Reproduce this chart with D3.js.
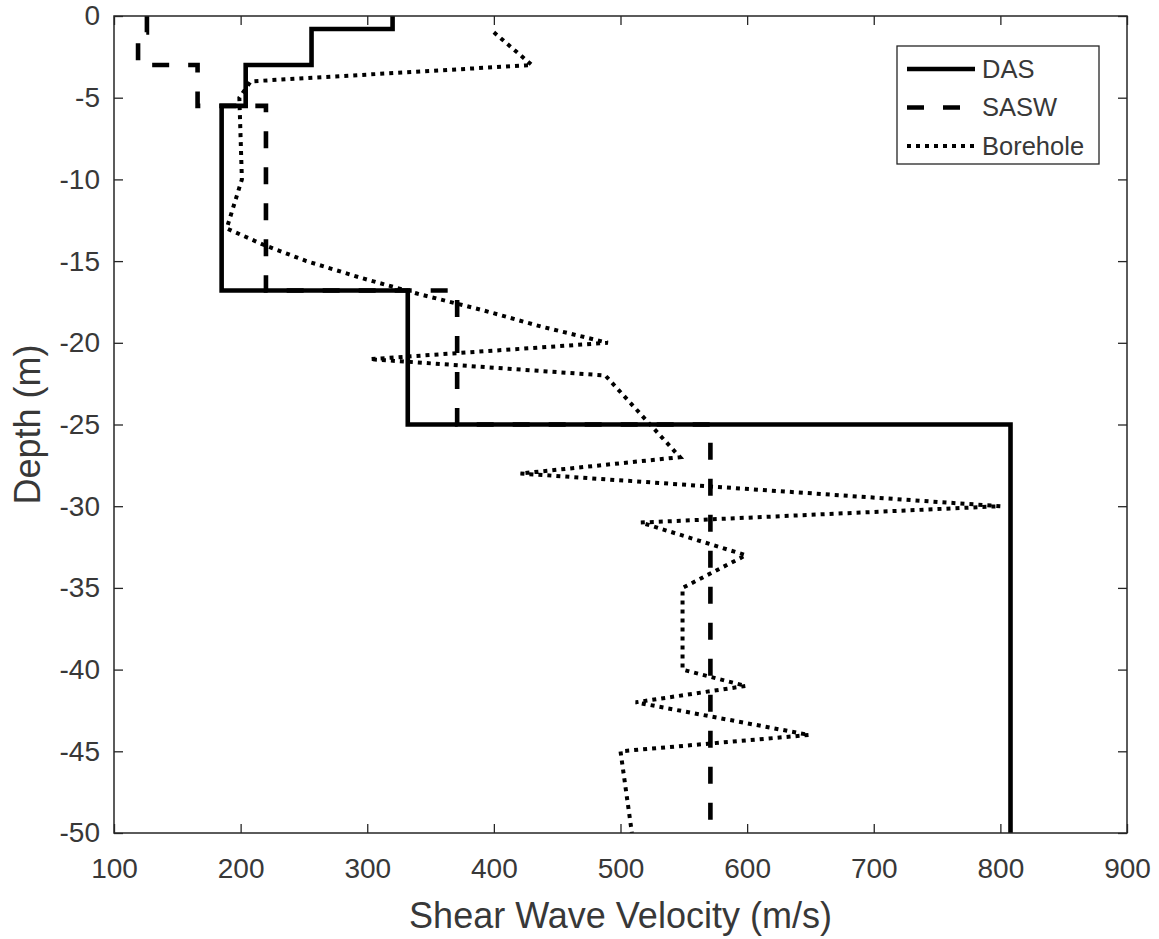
<!DOCTYPE html>
<html>
<head>
<meta charset="utf-8">
<script src="https://cdn.jsdelivr.net/npm/d3@7"></script>
<style>
body { margin: 0; background: #fff; }
text { font-family: Arial, "Liberation Sans", sans-serif; fill: #383838; }
</style>
</head>
<body>
<div id="chart"></div>
<script>
width = 1159
height = 939

// DAS profile (step function), depth in m, velocity in m/s
let dasDepth = [0, -0.8, -0.8, -3, -3, -5.5, -5.5, -16.8, -16.8, -25, -25, -50]
let dasVel = [320, 320, 256, 256, 204, 204, 185, 185, 332, 332, 808, 808]

// SASW profile
let saswDepth = [0, -1, -1, -3, -3, -5.5, -5.5, -16.8, -16.8, -25, -25, -50]
let saswVel = [126, 126, 119, 119, 166, 166, 220, 220, 371, 371, 571, 571]

// Borehole measurements
let boreDepth = [-1, -3, -4, -5, -10, -11, -12, -13, -14, -15, -16, -17, -18, -19, -20, -21, -22, -27, -28, -30, -31, -33, -35, -40, -41, -42, -44, -45, -50]
let boreVel = [400, 430, 208, 199, 201, 197, 193, 189, 218, 252, 294, 340, 391, 437, 490, 302, 488, 547, 421, 800, 516, 599, 549, 549, 599, 512, 649, 500, 509]

let xTicks = [100, 200, 300, 400, 500, 600, 700, 800, 900]
let yTicks = [0, -5, -10, -15, -20, -25, -30, -35, -40, -45, -50]
let seriesNames = ["DAS", "SASW", "Borehole"]

let plotLeft = 114, plotRight = 1127, plotTop = 16, plotBottom = 833
let axisColor = "#262626"
let textColor = "#383838"

let svg = d3.select("#chart")
.append("svg")
.attr("width", width)
.attr("height", height)

let x = d3.scaleLinear().domain([100, 900]).range([plotLeft, plotRight])
let y = d3.scaleLinear().domain([0, -50]).range([plotTop, plotBottom])

let styles = [
	{ width: 4.6, dash: null },
	{ width: 4.6, dash: "17,19" },
	{ width: 4, dash: "4,5" }
]

let series = [
	dasDepth.map((d, i) => [dasVel[i], d]),
	saswDepth.map((d, i) => [saswVel[i], d]),
	boreDepth.map((d, i) => [boreVel[i], d])
]

let line = d3.line().x(d => x(d[0])).y(d => y(d[1]))

svg.append("defs").append("clipPath").attr("id", "plot-clip")
.append("rect")
.attr("x", plotLeft)
.attr("y", plotTop)
.attr("width", plotRight - plotLeft)
.attr("height", plotBottom - plotTop)

svg.append("g")
.attr("clip-path", "url(#plot-clip)")
.selectAll("path")
.data(series)
.join("path")
.attr("d", line)
.attr("fill", "none")
.attr("stroke", "#000")
.attr("stroke-width", (d, i) => styles[i].width)
.attr("stroke-dasharray", (d, i) => styles[i].dash)
.attr("stroke-linejoin", "miter")

function styleAxis(g, showLabels) {
	g.select(".domain").remove()
	g.selectAll(".tick line").attr("stroke", axisColor).attr("stroke-width", 1.3)
	g.selectAll(".tick text")
	.attr("font-size", 28)
	.attr("font-family", "Arial, 'Liberation Sans', sans-serif")
	.attr("fill", textColor)
	if (!showLabels) g.selectAll(".tick text").remove()
}

svg.append("g")
.attr("transform", "translate(0," + plotBottom + ")")
.call(d3.axisBottom(x).tickValues(xTicks).tickSize(-9).tickPadding(25).tickFormat(d => String(d)))
.call(g => styleAxis(g, true))

svg.append("g")
.attr("transform", "translate(0," + plotTop + ")")
.call(d3.axisTop(x).tickValues(xTicks).tickSize(-9))
.call(g => styleAxis(g, false))

svg.append("g")
.attr("transform", "translate(" + plotLeft + ",0)")
.call(d3.axisLeft(y).tickValues(yTicks).tickSize(-9).tickPadding(14).tickFormat(d => String(d)))
.call(g => styleAxis(g, true))

svg.append("g")
.attr("transform", "translate(" + plotRight + ",0)")
.call(d3.axisRight(y).tickValues(yTicks).tickSize(-9))
.call(g => styleAxis(g, false))

svg.append("rect")
.attr("x", plotLeft)
.attr("y", plotTop)
.attr("width", plotRight - plotLeft)
.attr("height", plotBottom - plotTop)
.attr("fill", "none")
.attr("stroke", axisColor)
.attr("stroke-width", 1.5)

// axis labels
svg.append("text")
.attr("x", (plotLeft + plotRight) / 2)
.attr("y", 928)
.attr("text-anchor", "middle")
.attr("font-size", 36)
.text("Shear Wave Velocity (m/s)")

svg.append("text")
.attr("transform", "translate(40," + (plotTop + plotBottom) / 2 + ") rotate(-90)")
.attr("text-anchor", "middle")
.attr("font-size", 36)
.text("Depth (m)")

// legend
let legend = svg.append("g")
.attr("transform", "translate(897,46)")

legend.append("rect")
.attr("width", 202)
.attr("height", 118)
.attr("fill", "#fff")
.attr("stroke", axisColor)
.attr("stroke-width", 1.3)

seriesNames.forEach((name, i) => {
	let row = legend.append("g")
	.attr("transform", "translate(0," + (23 + i * 38.5) + ")")

	row.append("line")
	.attr("x1", 10)
	.attr("x2", 78)
	.attr("stroke", "#000")
	.attr("stroke-width", styles[i].width)
	.attr("stroke-dasharray", styles[i].dash)

	row.append("text")
	.attr("x", 85)
	.attr("dy", "0.35em")
	.attr("font-size", 25.5)
	.text(name)
})
</script>
</body>
</html>
